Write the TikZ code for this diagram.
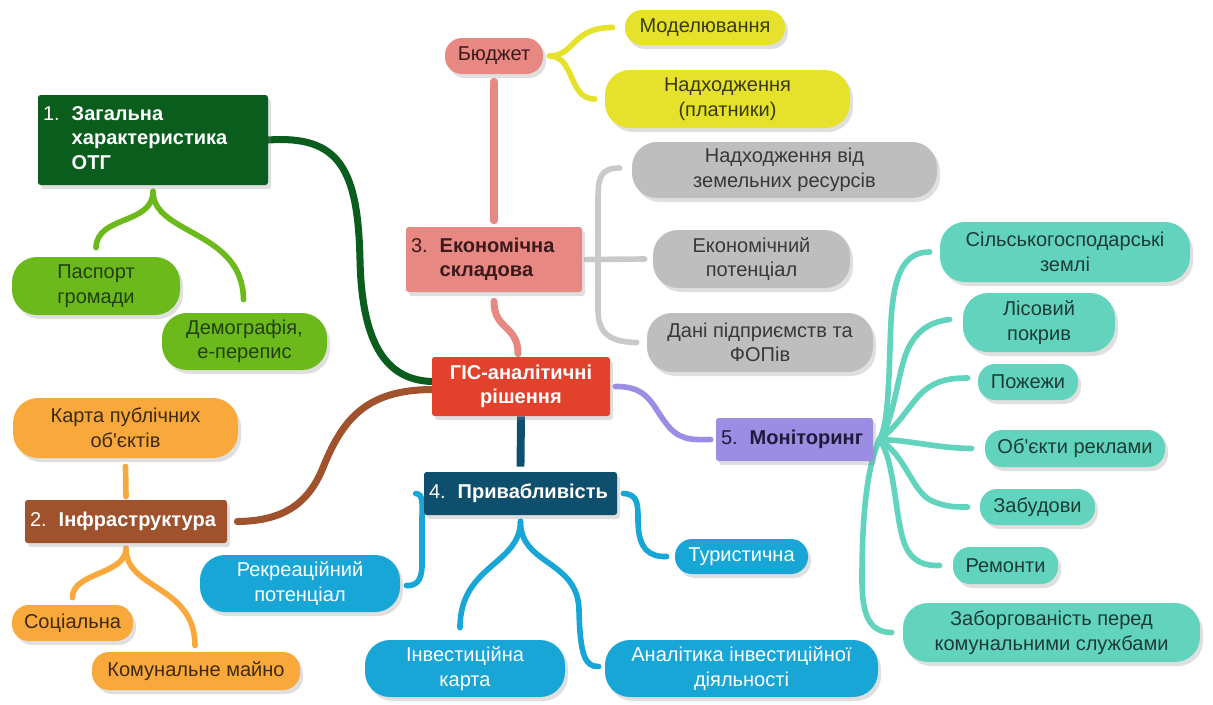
\documentclass[tikz,border=0pt]{standalone}
\usepackage{fontspec}
\setmainfont{Liberation Sans}[Ligatures=TeXOff]
\usetikzlibrary{shadows,calc,backgrounds}
\definecolor{cDkGreen}{HTML}{0B5D1E}
\definecolor{cLtGreen}{HTML}{6CB91B}
\definecolor{cLtGreenTx}{HTML}{22400C}
\definecolor{cSalmon}{HTML}{E88882}
\definecolor{cSalmonTx}{HTML}{3A1A1A}
\definecolor{cYellow}{HTML}{E6E22B}
\definecolor{cYellowTx}{HTML}{3A3A12}
\definecolor{cGrey}{HTML}{BEBEBE}
\definecolor{cGreyLn}{HTML}{C9C9C9}
\definecolor{cGreyTx}{HTML}{383838}
\definecolor{cRed}{HTML}{E2412B}
\definecolor{cNavy}{HTML}{0F4F6E}
\definecolor{cBlue}{HTML}{17A6D6}
\definecolor{cPurple}{HTML}{9B8DE3}
\definecolor{cPurpleTx}{HTML}{1E1B3A}
\definecolor{cTeal}{HTML}{62D4BE}
\definecolor{cTealTx}{HTML}{1C3B35}
\definecolor{cBrown}{HTML}{A0522D}
\definecolor{cOrange}{HTML}{F9A83C}
\definecolor{cOrangeTx}{HTML}{3D2A10}
\begin{document}
\begin{tikzpicture}[x=0.02cm,y=-0.02cm,
 base/.style={font=\fontsize{11.4}{14}\selectfont, inner sep=0pt,
   drop shadow={opacity=0.25,shadow xshift=0.06cm,shadow yshift=-0.08cm}},
 sz/.style 2 args={minimum width=#1*0.02cm, minimum height=#2*0.02cm},
 pill/.style={base, rectangle, rounded corners=0.34cm, align=center},
 pillL/.style={base, rectangle, rounded corners=0.5cm, align=center},
 hdr/.style={base, rectangle, rounded corners=1.5pt, align=left, inner xsep=0.1cm},
 conn/.style={line width=3.2pt, line cap=round},
 connB/.style={line width=4pt, line cap=round}]
\useasboundingbox (0,0) rectangle (1213,704);

% ---- nodes ----
\node[hdr, sz={230}{90}, text width=4.4cm, fill=cDkGreen, text=white] (otg) at (153,140)
 {\begin{tabular}{@{}l@{\hspace{0.6em}}l@{}}1.&\textbf{Загальна}\\&\textbf{характеристика}\\&\textbf{ОТГ}\end{tabular}};
\node[pillL, sz={168}{58}, fill=cLtGreen, text=cLtGreenTx] (pasp) at (96,286) {Паспорт\\громади};
\node[pillL, sz={165}{57}, fill=cLtGreen, text=cLtGreenTx] (demo) at (244.5,341.5) {Демографія,\\е-перепис};

\node[pill, sz={98}{36}, fill=cSalmon, text=cSalmonTx] (budg) at (494,56) {Бюджет};
\node[pill, sz={160}{35}, fill=cYellow, text=cYellowTx] (model) at (705,27.5) {Моделювання};
\node[pillL, sz={245}{58}, fill=cYellow, text=cYellowTx] (nadkh) at (727.5,99) {Надходження\\(платники)};

\node[hdr, sz={176}{65}, text width=3.32cm, fill=cSalmon, text=cSalmonTx] (econ) at (494,259.5)
 {\begin{tabular}{@{}l@{\hspace{0.6em}}l@{}}3.&\textbf{Економічна}\\&\textbf{складова}\end{tabular}};
\node[pillL, sz={305}{56}, fill=cGrey, text=cGreyTx] (zem) at (784.5,170) {Надходження від\\земельних ресурсів};
\node[pillL, sz={197}{58}, fill=cGrey, text=cGreyTx] (epot) at (751.5,259) {Економічний\\потенціал};
\node[pillL, sz={226}{59}, fill=cGrey, text=cGreyTx] (dani) at (760,342.5) {Дані підприємств та\\ФОПів};

\node[hdr, sz={178}{59}, text width=3.36cm, align=center, fill=cRed, text=white] (gis) at (521,386.5)
 {\textbf{ГІС-аналітичні}\\\textbf{рішення}};
\node[hdr, sz={193}{43}, text width=3.66cm, fill=cNavy, text=white] (priv) at (520.5,493.5)
 {4.\hspace{0.6em}\textbf{Привабливість}};
\node[hdr, sz={157}{43}, text width=2.94cm, fill=cPurple, text=cPurpleTx] (mon) at (794.5,439.5)
 {5.\hspace{0.6em}\textbf{Моніторинг}};

\node[pillL, sz={250}{60}, fill=cTeal, text=cTealTx] (s1) at (1065,252) {Сільськогосподарські\\землі};
\node[pillL, sz={152}{59}, fill=cTeal, text=cTealTx] (s2) at (1039,322.5) {Лісовий\\покрив};
\node[pill, sz={100}{36}, fill=cTeal, text=cTealTx] (s3) at (1028,382) {Пожежи};
\node[pill, sz={180}{37}, fill=cTeal, text=cTealTx] (s4) at (1075,448.5) {Об'єкти реклами};
\node[pill, sz={115}{36}, fill=cTeal, text=cTealTx] (s5) at (1037.5,507) {Забудови};
\node[pill, sz={105}{37}, fill=cTeal, text=cTealTx] (s6) at (1005.5,565.5) {Ремонти};
\node[pillL, sz={297}{59}, fill=cTeal, text=cTealTx] (s7) at (1051.5,632.5) {Заборгованість перед\\комунальними службами};

\node[hdr, sz={202}{43}, text width=3.84cm, fill=cBrown, text=white] (infra) at (126,521.5)
 {2.\hspace{0.6em}\textbf{Інфраструктура}};
\node[pillL, sz={225}{60}, fill=cOrange, text=cOrangeTx] (karta) at (125.5,428) {Карта публічних\\об'єктів};
\node[pill, sz={121}{36}, fill=cOrange, text=cOrangeTx] (soc) at (72.5,623) {Соціальна};
\node[pill, sz={208}{38}, fill=cOrange, text=cOrangeTx] (kom) at (196,671) {Комунальне майно};

\node[pillL, sz={200}{57}, fill=cBlue, text=white] (rekr) at (300,583.5) {Рекреаційний\\потенціал};
\node[pill, sz={133}{35}, fill=cBlue, text=white] (tur) at (741.5,556.5) {Туристична};
\node[pillL, sz={200}{57}, fill=cBlue, text=white] (inv) at (465,668.5) {Інвестиційна\\карта};
\node[pillL, sz={273}{57}, fill=cBlue, text=white] (anal) at (741.5,668.5) {Аналітика інвестиційної\\діяльності};

\coordinate (hub) at ($(mon.east)+(6,0)$);

% ---- connectors ----
\begin{scope}[on background layer]
\draw[connB, cDkGreen] (otg.east) .. controls (340,135) and (358,170) .. (360,260)
  .. controls (362,350) and (390,380) .. ($(gis.west)+(0,-5)$);
\draw[conn, cLtGreen] ($(otg.south)+(0,6)$) .. controls (153,225) and (97,215) .. ($(pasp.north)+(0,-9)$);
\draw[conn, cLtGreen] ($(otg.south)+(0,6)$) .. controls (153,235) and (243,230) .. ($(demo.north)+(-1,-13)$);

\draw[connB, cSalmon] ($(budg.south)+(0,7)$) -- ($(econ.north)+(0,-6)$);
\draw[conn, cYellow] ($(budg.east)+(6,0)$) .. controls (575,56) and (572,27) .. ($(model.west)+(-12,0)$);
\draw[conn, cYellow] ($(budg.east)+(6,0)$) .. controls (575,56) and (568,99) .. ($(nadkh.west)+(-10,0)$);
\draw[connB, cSalmon] ($(econ.south)+(0,9)$) .. controls (494,330) and (518,325) .. ($(gis.north)+(-3,-3)$);

\draw[conn, cGreyLn] ($(econ.east)+(4,0)$) -- ($(epot.west)+(-8,0)$);
\draw[conn, cGreyLn] ($(zem.west)+(-12,-2)$) .. controls (600,168) and (598,178) .. (598,200) -- (598,310)
  .. controls (598,335) and (612,342) .. ($(dani.west)+(-10,0)$);

\draw[line width=4.5pt, cNavy] (gis.south) -- ($(priv.north)+(0,-5)$);
\draw[conn, cPurple] ($(gis.east)+(5,0)$) .. controls (648,386) and (652,405) .. (665,422)
  .. controls (678,440) and (690,440) .. ($(mon.west)+(-5,0)$);
\draw[connB, cBrown] ($(gis.west)+(0,3)$) .. controls (365,390) and (342,420) .. (322,470)
  .. controls (305,510) and (275,521) .. ($(infra.east)+(10,0)$);

\draw[conn, cOrange] ($(infra.north)+(0,-3)$) -- ($(karta.south)+(0,8)$);
\draw[conn, cOrange] ($(infra.south)+(0,5)$) .. controls (126,575) and (72,572) .. ($(soc.north)+(0,-7)$);
\draw[conn, cOrange] ($(infra.south)+(0,5)$) .. controls (126,590) and (195,585) .. ($(kom.north)+(-1,-6)$);

\draw[conn, cBlue] ($(priv.west)+(-8,0)$) .. controls (424,494) and (422,505) .. (422,520) -- (422,565)
  .. controls (422,582) and (415,586) .. ($(rekr.east)+(6,2)$);
\draw[conn, cBlue] ($(priv.east)+(6,0)$) .. controls (638,494) and (638,505) .. (638,520)
  .. controls (638,550) and (650,557) .. ($(tur.west)+(-8,0)$);
\draw[conn, cBlue] ($(priv.south)+(0,6)$) .. controls (520,565) and (460,565) .. ($(inv.north)+(-5,-12)$);
\draw[conn, cBlue] ($(priv.south)+(0,6)$) .. controls (520,565) and (578,560) .. (579,610)
  .. controls (580,655) and (585,667) .. ($(anal.west)+(-6,-2)$);

\draw[conn, cTeal] (hub) .. controls (892,420) and (888,330) .. (893,300)
  .. controls (898,262) and (912,252) .. ($(s1.west)+(-10,0)$);
\draw[conn, cTeal] (hub) .. controls (895,420) and (898,365) .. (910,345)
  .. controls (920,327) and (935,321) .. ($(s2.west)+(-13,-3)$);
\draw[conn, cTeal] (hub) .. controls (900,425) and (912,400) .. (925,390)
  .. controls (938,380) and (950,378) .. ($(s3.west)+(-10,-4)$);
\draw[conn, cTeal] (hub) .. controls (910,440) and (935,448) .. ($(s4.west)+(-13,0)$);
\draw[conn, cTeal] (hub) .. controls (905,455) and (912,490) .. (930,500)
  .. controls (945,507) and (955,507) .. ($(s5.west)+(-12,0)$);
\draw[conn, cTeal] (hub) .. controls (895,460) and (895,520) .. (905,545)
  .. controls (912,562) and (925,566) .. ($(s6.west)+(-13,0)$);
\draw[conn, cTeal] (hub) .. controls (866,470) and (862,520) .. (862,580)
  .. controls (862,620) and (872,632) .. ($(s7.west)+(-11,0)$);
\end{scope}
\end{tikzpicture}
\end{document}
